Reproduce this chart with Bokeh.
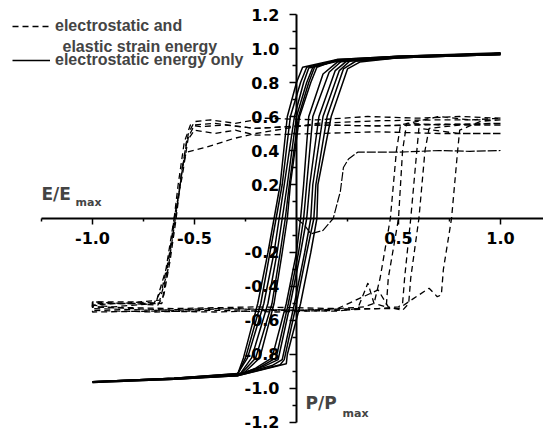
from bokeh.plotting import figure
from bokeh.models import Range1d, FixedTicker, Label, Legend, LegendItem, NumeralTickFormatter
from bokeh.embed import file_html
from bokeh.resources import INLINE

# ---------------- data ----------------
# axis ticks
x_major = [-1.0, -0.5, 0.5, 1.0]
x_minor = [-1.25, -0.75, -0.25, 0.25, 0.75]
y_major = [-1.2, -1.0, -0.8, -0.6, -0.4, -0.2, 0.2, 0.4, 0.6, 0.8, 1.0, 1.2]
y_minor = [-1.1, -0.9, -0.7, -0.5, -0.3, -0.1, 0.1, 0.3, 0.5, 0.7, 0.9, 1.1]

# solid loops: electrostatic energy only (descending branch then ascending branch)
s1_x = [1.0, 0.5, 0.2, 0.03, 0.0, -0.045, -0.08, -0.11, -0.14, -0.19, -0.26, -0.29, -0.6, -1.0,
        -1.0, -0.6, -0.29, -0.2, -0.12, -0.05, 0.0, 0.02, 0.035, 0.06, 0.13, 0.2, 0.5, 1.0]
s1_y = [0.975, 0.955, 0.935, 0.89, 0.8, 0.6, 0.2, 0.0, -0.2, -0.5, -0.82, -0.92, -0.945, -0.965,
        -0.965, -0.945, -0.925, -0.88, -0.82, -0.5, -0.2, 0.0, 0.2, 0.6, 0.85, 0.92, 0.945, 0.97]
s2_x = [1.0, 0.5, 0.2, 0.05, 0.02, -0.03, -0.07, -0.10, -0.13, -0.175, -0.25, -0.29, -0.6, -1.0,
        -1.0, -0.6, -0.29, -0.18, -0.10, -0.04, 0.01, 0.035, 0.05, 0.08, 0.16, 0.22, 0.5, 1.0]
s2_y = [0.97, 0.95, 0.93, 0.89, 0.8, 0.6, 0.2, 0.0, -0.2, -0.5, -0.82, -0.92, -0.94, -0.96,
        -0.96, -0.94, -0.92, -0.875, -0.82, -0.5, -0.2, 0.0, 0.2, 0.6, 0.86, 0.925, 0.95, 0.965]
s3_x = [1.0, 0.5, 0.2, 0.06, 0.035, -0.01, -0.06, -0.085, -0.11, -0.16, -0.24, -0.29, -0.6, -1.0,
        -1.0, -0.6, -0.29, -0.16, -0.09, -0.03, 0.02, 0.05, 0.065, 0.11, 0.19, 0.25, 0.5, 1.0]
s3_y = [0.965, 0.945, 0.925, 0.885, 0.8, 0.6, 0.2, 0.0, -0.2, -0.5, -0.82, -0.915, -0.94, -0.96,
        -0.96, -0.94, -0.92, -0.87, -0.83, -0.5, -0.2, 0.0, 0.2, 0.6, 0.87, 0.93, 0.95, 0.97]
s4_x = [1.0, 0.5, 0.2, 0.08, 0.05, 0.0, -0.045, -0.07, -0.095, -0.14, -0.22, -0.28, -0.6, -1.0,
        -1.0, -0.6, -0.29, -0.12, -0.07, -0.01, 0.04, 0.07, 0.08, 0.13, 0.21, 0.27, 0.5, 1.0]
s4_y = [0.97, 0.95, 0.93, 0.89, 0.8, 0.6, 0.2, 0.0, -0.2, -0.5, -0.82, -0.92, -0.945, -0.965,
        -0.965, -0.945, -0.92, -0.865, -0.83, -0.5, -0.2, 0.0, 0.2, 0.6, 0.87, 0.935, 0.955, 0.97]
s5_x = [1.0, 0.5, 0.2, 0.09, 0.06, 0.01, -0.035, -0.055, -0.08, -0.12, -0.2, -0.27, -0.6, -1.0,
        -1.0, -0.6, -0.29, -0.08, -0.06, 0.0, 0.05, 0.085, 0.095, 0.15, 0.23, 0.29, 0.5, 1.0]
s5_y = [0.965, 0.95, 0.93, 0.895, 0.8, 0.6, 0.2, 0.0, -0.2, -0.5, -0.82, -0.91, -0.94, -0.96,
        -0.96, -0.94, -0.925, -0.86, -0.83, -0.5, -0.2, 0.0, 0.2, 0.6, 0.88, 0.925, 0.945, 0.965]
s6_x = [1.0, 0.5, 0.2, 0.1, 0.07, 0.015, -0.03, -0.045, -0.07, -0.11, -0.18, -0.26, -0.6, -1.0,
        -1.0, -0.6, -0.29, -0.05, -0.045, 0.02, 0.07, 0.10, 0.105, 0.17, 0.25, 0.31, 0.5, 1.0]
s6_y = [0.97, 0.955, 0.935, 0.89, 0.8, 0.6, 0.2, 0.0, -0.2, -0.5, -0.82, -0.91, -0.94, -0.96,
        -0.96, -0.945, -0.925, -0.855, -0.8, -0.5, -0.2, 0.0, 0.2, 0.6, 0.88, 0.92, 0.945, 0.965]

# dashed loops: electrostatic and elastic strain energy
d1_x = [1.0, 0.8, 0.6, 0.35, 0.1, -0.15, -0.3, -0.42, -0.5, -0.53, -0.56, -0.59, -0.62, -0.65, -0.68, -0.8, -1.0,
        -1.0, -0.8, -0.6, -0.3, 0.0, 0.2, 0.33, 0.38, 0.41, 0.46, 0.49, 0.51, 0.7, 0.85, 1.0]
d1_y = [0.59, 0.6, 0.59, 0.6, 0.58, 0.59, 0.56, 0.58, 0.57, 0.5, 0.3, 0.0, -0.25, -0.45, -0.51, -0.5, -0.5,
        -0.52, -0.53, -0.54, -0.53, -0.54, -0.53, -0.52, -0.5, -0.35, 0.0, 0.4, 0.55, 0.6, 0.58, 0.59]
d2_x = [1.0, 0.8, 0.6, 0.4, 0.1, -0.2, -0.35, -0.47, -0.52, -0.55, -0.58, -0.61, -0.64, -0.66, -0.8, -1.0,
        -1.0, -0.7, -0.4, -0.1, 0.2, 0.3, 0.35, 0.38, 0.44, 0.45, 0.5, 0.52, 0.54, 0.7, 1.0]
d2_y = [0.56, 0.555, 0.55, 0.545, 0.55, 0.53, 0.55, 0.54, 0.55, 0.45, 0.2, -0.1, -0.35, -0.5, -0.49, -0.49,
        -0.55, -0.545, -0.55, -0.54, -0.545, -0.53, -0.38, -0.5, -0.52, -0.35, 0.0, 0.4, 0.56, 0.55, 0.56]
d3_x = [1.0, 0.7, 0.4, 0.1, -0.2, -0.3, -0.4, -0.5, -0.54, -0.57, -0.6, -0.63, -0.67, -0.85, -1.0,
        -1.0, -0.7, -0.4, -0.1, 0.2, 0.4, 0.5, 0.52, 0.53, 0.56, 0.59, 0.6, 0.8, 1.0]
d3_y = [0.5, 0.5, 0.51, 0.5, 0.49, 0.52, 0.5, 0.52, 0.45, 0.2, -0.05, -0.3, -0.48, -0.5, -0.49,
        -0.54, -0.55, -0.54, -0.55, -0.54, -0.53, -0.52, -0.5, -0.35, 0.0, 0.4, 0.53, 0.5, 0.5]
d4_x = [1.0, 0.7, 0.4, 0.1, -0.2, -0.4, -0.5, -0.53, -0.56, -0.6, -0.64, -0.69, -0.9, -1.0,
        -1.0, -0.6, -0.2, 0.2, 0.4, 0.45, 0.52, 0.55, 0.56, 0.6, 0.63, 0.65, 0.8, 1.0]
d4_y = [0.55, 0.555, 0.545, 0.55, 0.53, 0.56, 0.55, 0.48, 0.25, 0.0, -0.3, -0.5, -0.5, -0.51,
        -0.52, -0.53, -0.52, -0.53, -0.42, -0.52, -0.54, -0.5, -0.35, 0.0, 0.4, 0.53, 0.55, 0.55]
d5_x = [1.0, 0.7, 0.4, 0.1, -0.2, -0.31, -0.44, -0.54, -0.56, -0.59, -0.62, -0.66, -0.7, -0.9, -1.0,
        -1.0, -0.7, -0.4, 0.0, 0.3, 0.5, 0.6, 0.65, 0.69, 0.71, 0.72, 0.76, 0.79, 0.8, 0.9, 1.0]
d5_y = [0.58, 0.58, 0.575, 0.56, 0.5, 0.47, 0.42, 0.39, 0.3, 0.05, -0.2, -0.42, -0.5, -0.52, -0.51,
        -0.53, -0.54, -0.53, -0.54, -0.53, -0.53, -0.45, -0.41, -0.46, -0.45, -0.3, 0.0, 0.4, 0.52, 0.57, 0.58]
# initial (virgin) curve
v_x = [0.0, 0.04, 0.07, 0.13, 0.18, 0.215, 0.23, 0.255, 0.3, 0.5, 0.7, 0.85, 1.0]
v_y = [0.0, -0.04, -0.09, -0.07, 0.0, 0.16, 0.3, 0.35, 0.39, 0.39, 0.40, 0.395, 0.4]

FONT_TICK = "DejaVu Sans"
FONT_TEXT = "Liberation Sans"

p = figure(width=543, height=436, output_backend="svg", toolbar_location=None,
           x_range=Range1d(-1.451, 1.2108), y_range=Range1d(-1.2824, 1.2824),
           min_border=0)
p.outline_line_color = None
p.xgrid.visible = False
p.ygrid.visible = False
p.background_fill_color = "white"

dashed = p.multi_line(xs=[d1_x, d2_x, d3_x, d4_x, d5_x], ys=[d1_y, d2_y, d3_y, d4_y, d5_y],
                      line_color="black", line_width=1.3, line_dash="6 4")
p.line(v_x, v_y, line_color="black", line_width=1.2, line_dash="9 2")
solid = p.multi_line(xs=[s1_x, s2_x, s3_x, s4_x, s5_x, s6_x], ys=[s1_y, s2_y, s3_y, s4_y, s5_y, s6_y],
                     line_color="black", line_width=1.5)

for ax in (p.xaxis[0], p.yaxis[0]):
    ax.fixed_location = 0
    ax.axis_line_width = 2
    ax.axis_line_color = "black"
    ax.major_tick_line_width = 1.5
    ax.minor_tick_line_width = 1.5
    ax.major_tick_in = 0
    ax.minor_tick_in = 0
    ax.major_label_text_font = FONT_TICK
    ax.major_label_text_font_style = "bold"
    ax.major_label_text_font_size = "16px"
    ax.major_label_text_color = "black"
    ax.formatter = NumeralTickFormatter(format="0.0")
    ax.level = "underlay"

p.xaxis.bounds = (-1.25, 1.21)
p.xaxis.ticker = FixedTicker(ticks=x_major, minor_ticks=x_minor)
p.xaxis.major_tick_out = 6
p.xaxis.minor_tick_out = 3
p.xaxis.major_label_standoff = 7

p.yaxis.bounds = (-1.2, 1.2)
p.yaxis.ticker = FixedTicker(ticks=y_major, minor_ticks=y_minor)
p.yaxis.major_tick_out = 7
p.yaxis.minor_tick_out = 4
p.yaxis.major_label_standoff = 10

# axis titles
p.add_layout(Label(x=-1.25, y=0.147, text="E/E", text_font=FONT_TICK, text_font_style="bold",
                   text_font_size="17px", text_baseline="alphabetic", text_align="left"))
p.add_layout(Label(x=-1.083, y=0.094, text="max", text_font=FONT_TICK, text_font_style="bold",
                   text_font_size="11px", text_baseline="alphabetic", text_align="left"))
p.add_layout(Label(x=0.044, y=-1.088, text="P/P", text_font=FONT_TICK, text_font_style="bold",
                   text_font_size="17px", text_baseline="alphabetic", text_align="left"))
p.add_layout(Label(x=0.2255, y=-1.146, text="max", text_font=FONT_TICK, text_font_style="bold",
                   text_font_size="11px", text_baseline="alphabetic", text_align="left"))

# legend
legend = Legend(items=[LegendItem(label="electrostatic and", renderers=[dashed]),
                       LegendItem(label="electrostatic energy only", renderers=[solid])],
                location="top_left", margin=0, padding=12, spacing=6,
                glyph_width=38, glyph_height=28, label_height=28, label_standoff=5,
                label_text_font=FONT_TEXT, label_text_font_style="bold",
                label_text_font_size="16px", background_fill_alpha=0, border_line_alpha=0)
p.add_layout(legend)
p.add_layout(Label(x=-1.147, y=1.0118, text="elastic strain energy", text_font=FONT_TEXT,
                   text_font_style="bold", text_font_size="16px", text_baseline="alphabetic",
                   text_align="left"))

open("out.html", "w").write(file_html(p, INLINE))
